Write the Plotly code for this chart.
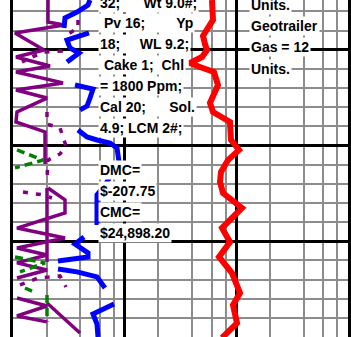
import plotly.graph_objects as go

blue_depth = [5074.0, 5076.6, 5080.3, 5083.4, 5088.6, None,
              5091.2, 5094.9, 5099.1, 5101.7, 5106.4, None,
              5118.4, 5120.5, 5125.2, 5129.4, 5131.4, None,
              5141.9, 5145.5, 5147.1, 5148.7, 5151.3, 5158.6, 5170.6, 5175.8, 5191.5, None,
              5197.8, 5201.5, 5206.1, 5208.2, 5210.3, None,
              5214.5, 5216.0, 5218.6, 5224.4, None,
              5232.8, 5238.0, 5243.2, 5250.0]
blue_val = [77, 75, 64, 52, 51, None,
            76, 54, 57, 66, 54, None,
            62, 80, 77, 74, 67, None,
            65, 74, 84, 97, 104, 106, 92, 84, 84, None,
            71, 62, 75, 75, 45, None,
            45, 64, 84, 92, None,
            101, 80, 84, 85]

gas_depth = [5074.0, 5079.2, 5084.4, 5090.2, 5092.8, 5097.0, 5100.1, 5103.8, 5106.9,
             5109.0, 5111.6, 5118.4, 5124.7, 5127.8, 5132.5, 5137.7, 5147.1, 5152.3,
             5157.6, 5163.8, 5169.0, 5174.8, 5182.6, 5193.1, 5200.4, 5208.2, 5216.6,
             5227.0, 5233.3, 5242.7, 5248.4, 5250.5]
gas_val = [199, 199, 200, 193, 190, 192, 194, 189, 177,
           187, 201, 205, 200, 197, 200, 217, 218, 226,
           215, 208, 207, 210, 229, 209, 217, 206, 219,
           227, 220, 224, 213, 209]

rop_depth = [5074.0, 5085.5, 5087.1, 5091.2, 5100.1, 5103.8, 5108.5, 5111.6, 5117.3,
             5121.0, 5125.2, 5132.5, 5137.7, 5142.9, 5159.6, None,
             5172.2, 5178.4, 5185.2, 5193.1, 5198.3, 5203.5, 5207.2, 5211.3, 5215.0, 5219.2, None,
             5172.2, 5210.8, None,
             5229.6, 5233.8, 5239.0, 5242.1, None,
             5232.2, 5247.9]
rop_val = [35, 35, 51, 2, 31, 3, 37, 3, 50,
           3, 34, 4, 3, 32, 32, None,
           35, 52, 52, 4, 52, 4, 34, 4, 34, 4, None,
           34, 34, None,
           4, 34, 4, 34, None,
           34, 67]

rop2_depth = [5084.4, 5088.6, 5091.8, 5098.0, 5100.6, 5101.2, 5104.3, 5106.4, None,
              5132.5, 5138.8, 5140.8, 5150.2, 5154.4, 5157.6, 5167.0, None,
              5174.3, 5175.8, 5177.4, None,
              5222.8, 5219.2, 5218.1, 5223.9, None,
              5233.3, 5233.8]
rop2_val = [65, 65, 55, 55, 49, 30, 17, 9, None,
            34, 34, 47, 53, 47, 35, 34, None,
            10, 30, 39, None,
            7, 25, 47, 53, None,
            27, 37]

green_depth = [5152.3, 5157.6, 5161.7, None,
               5208.2, 5211.3, 5216.0, None,
               5224.4, 5226.0, None,
               5228.0, 5242.1]
green_val = [4, 30, 2, None,
             2, 32, 7, None,
             12, 19, None,
             34, 34]

NB = "\u00a0"
mud_lines = ["32;" + NB * 6 + "Wt 9.0#;",
             NB + "Pv 16;" + NB * 8 + "Yp",
             "18;" + NB * 5 + "WL 9.2;",
             NB + "Cake 1;" + NB * 2 + "Chl",
             "= 1800 Ppm;",
             "Cal 20;" + NB * 6 + "Sol.",
             "4.9; LCM 2#;"]
mud_depth = [5075.4, 5086.0, 5097.0, 5107.9, 5118.9, 5129.9, 5140.8]
cost_lines = ["DMC=", "$-207.75", "CMC=", "$24,898.20"]
cost_depth = [5162.8, 5173.7, 5184.7, 5195.7]
gas_lines = ["Units.", "Geotrailer", "Gas = 12", "Units."]
gas_note_depth = [5076.4, 5087.6, 5098.5, 5110.0]

# log-scale grid of the strip (1 to 1000)
grid_span = [1, 1000]

GRAY = "#8c8c8c"

fig = go.Figure()
fig.add_trace(go.Scatter(x=grid_span, y=[5074, 5074], mode="none", hoverinfo="skip"))
fig.add_trace(go.Scatter(x=rop_val, y=rop_depth, xaxis="x2", mode="lines",
                         line=dict(color="#800080", width=3.5)))
fig.add_trace(go.Scatter(x=rop2_val, y=rop2_depth, xaxis="x2", mode="lines",
                         line=dict(color="#800080", width=3.5, dash="5px,8px")))
fig.add_trace(go.Scatter(x=green_val, y=green_depth, xaxis="x2", mode="lines",
                         line=dict(color="#008000", width=3.5, dash="8px,5px")))
fig.add_trace(go.Scatter(x=blue_val, y=blue_depth, xaxis="x2", mode="lines",
                         line=dict(color="#0000ff", width=5)))
fig.add_trace(go.Scatter(x=gas_val, y=gas_depth, xaxis="x2", mode="lines",
                         line=dict(color="#ff0000", width=6)))

font = dict(family="Liberation Sans, Arial", size=14, color="black", weight="bold")
for txt, d in zip(mud_lines, mud_depth):
    fig.add_annotation(x=85, y=d, xref="x2", yref="y", text=txt, showarrow=False,
                       xanchor="left", yanchor="middle", bgcolor="white", borderpad=1, font=font)
for txt, d in zip(cost_lines, cost_depth):
    fig.add_annotation(x=85, y=d, xref="x2", yref="y", text=txt, showarrow=False,
                       xanchor="left", yanchor="middle", bgcolor="white", borderpad=1, font=font)
for txt, d in zip(gas_lines, gas_note_depth):
    fig.add_annotation(x=236, y=d, xref="x2", yref="y", text=txt, showarrow=False,
                       xanchor="left", yanchor="middle", bgcolor="white", borderpad=1, font=font)

fig.update_layout(
    width=351, height=337,
    margin=dict(l=13, r=3, t=0, b=0),
    paper_bgcolor="white", plot_bgcolor="white",
    showlegend=False,
    xaxis=dict(type="log", range=[0, 3], tickvals=[1, 10, 100, 1000],
               showgrid=True, gridcolor="black", gridwidth=2.5,
               showticklabels=False, ticks="", zeroline=False,
               minor=dict(tickvals=[2, 4, 6, 8, 20, 40, 60, 80, 200, 400, 600, 800],
                          showgrid=True, gridcolor=GRAY, gridwidth=2, ticks="")),
    xaxis2=dict(overlaying="x", range=[0, 335], visible=False),
    yaxis=dict(range=[5250, 5074], tick0=5000, dtick=50,
               showgrid=True, gridcolor="black", gridwidth=2.5,
               showticklabels=False, ticks="", zeroline=False,
               showline=True, linecolor="black", linewidth=3, mirror=True,
               minor=dict(dtick=10, showgrid=True, gridcolor=GRAY, gridwidth=2, ticks="")),
)

fig.write_html("out.html", config={"displayModeBar": False},
               post_script="document.body.style.margin='0';")
